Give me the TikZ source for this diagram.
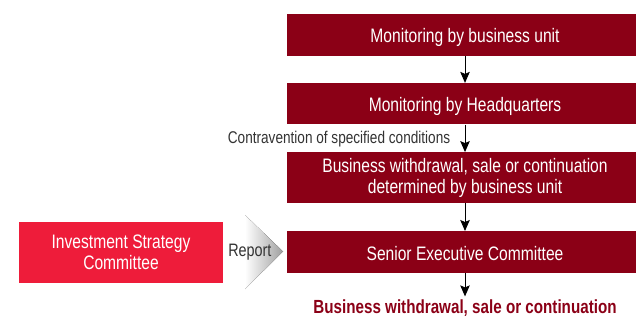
\documentclass[tikz,border=0pt]{standalone}
\usepackage{fontspec}
\setmainfont[FakeStretch=0.8]{Liberation Sans}
\usepackage{tikz}
\usetikzlibrary{arrows.meta,positioning}

\definecolor{darkred}{HTML}{8B0016}
\definecolor{brightred}{HTML}{EE1C3A}
\definecolor{textgray}{HTML}{333333}

\begin{document}
\begin{tikzpicture}[
    x=1pt, y=-1pt,
    font=\fontsize{19.5}{21}\selectfont,
    node distance=27pt,
    box/.style={fill=darkred, text=white, align=center, minimum width=356pt, minimum height=42pt, inner sep=2pt},
    stage/.style={box, text height=16pt, text depth=0pt},
    committee/.style={fill=brightred, text=white, align=center, minimum width=204pt, minimum height=61pt, inner sep=2pt},
    smalltext/.style={text=textgray, font=\fontsize{17}{20}\selectfont},
    arrow/.style={-{Stealth[length=11pt,width=9.5pt,inset=2pt]}, line width=1pt}
]
\useasboundingbox (0,0) rectangle (636,320);

% ---------- Main column ----------
\node[stage] (unit) at (465,35) {Monitoring by business unit};
\node[stage, minimum height=41.3pt, below=26.7pt of unit] (hq) {Monitoring by Headquarters};
\node[box, minimum height=50.5pt, below=27.5pt of hq] (decide) {Business withdrawal, sale or continuation\\determined by business unit};
\node[stage, below=28pt of decide] (senior) {Senior Executive Committee};
\node[text=darkred, font=\fontsize{19}{21}\selectfont\bfseries, below=23pt of senior] (result) {Business withdrawal, sale or continuation};

% ---------- Committee and report ----------
\node[committee] (isc) at (121,252.5) {Investment Strategy\\Committee};
\fill[left color=white, right color=gray!75] (245,215) coordinate (chevtop) -- (283,251.5) coordinate (chevtip) -- (245,289) -- cycle;
\node[smalltext, font=\fontsize{18}{21}\selectfont, anchor=east] (report) at (275,252) {Report};

% ---------- Edges ----------
\draw[arrow] (unit) -- (hq);
\draw[arrow] (hq) -- node[pos=0.52, left=11pt, smalltext] (cond) {Contravention of specified conditions} (decide);
\draw[arrow] (decide) -- (senior);
\draw[arrow] (senior) -- (result);

\end{tikzpicture}
\end{document}
